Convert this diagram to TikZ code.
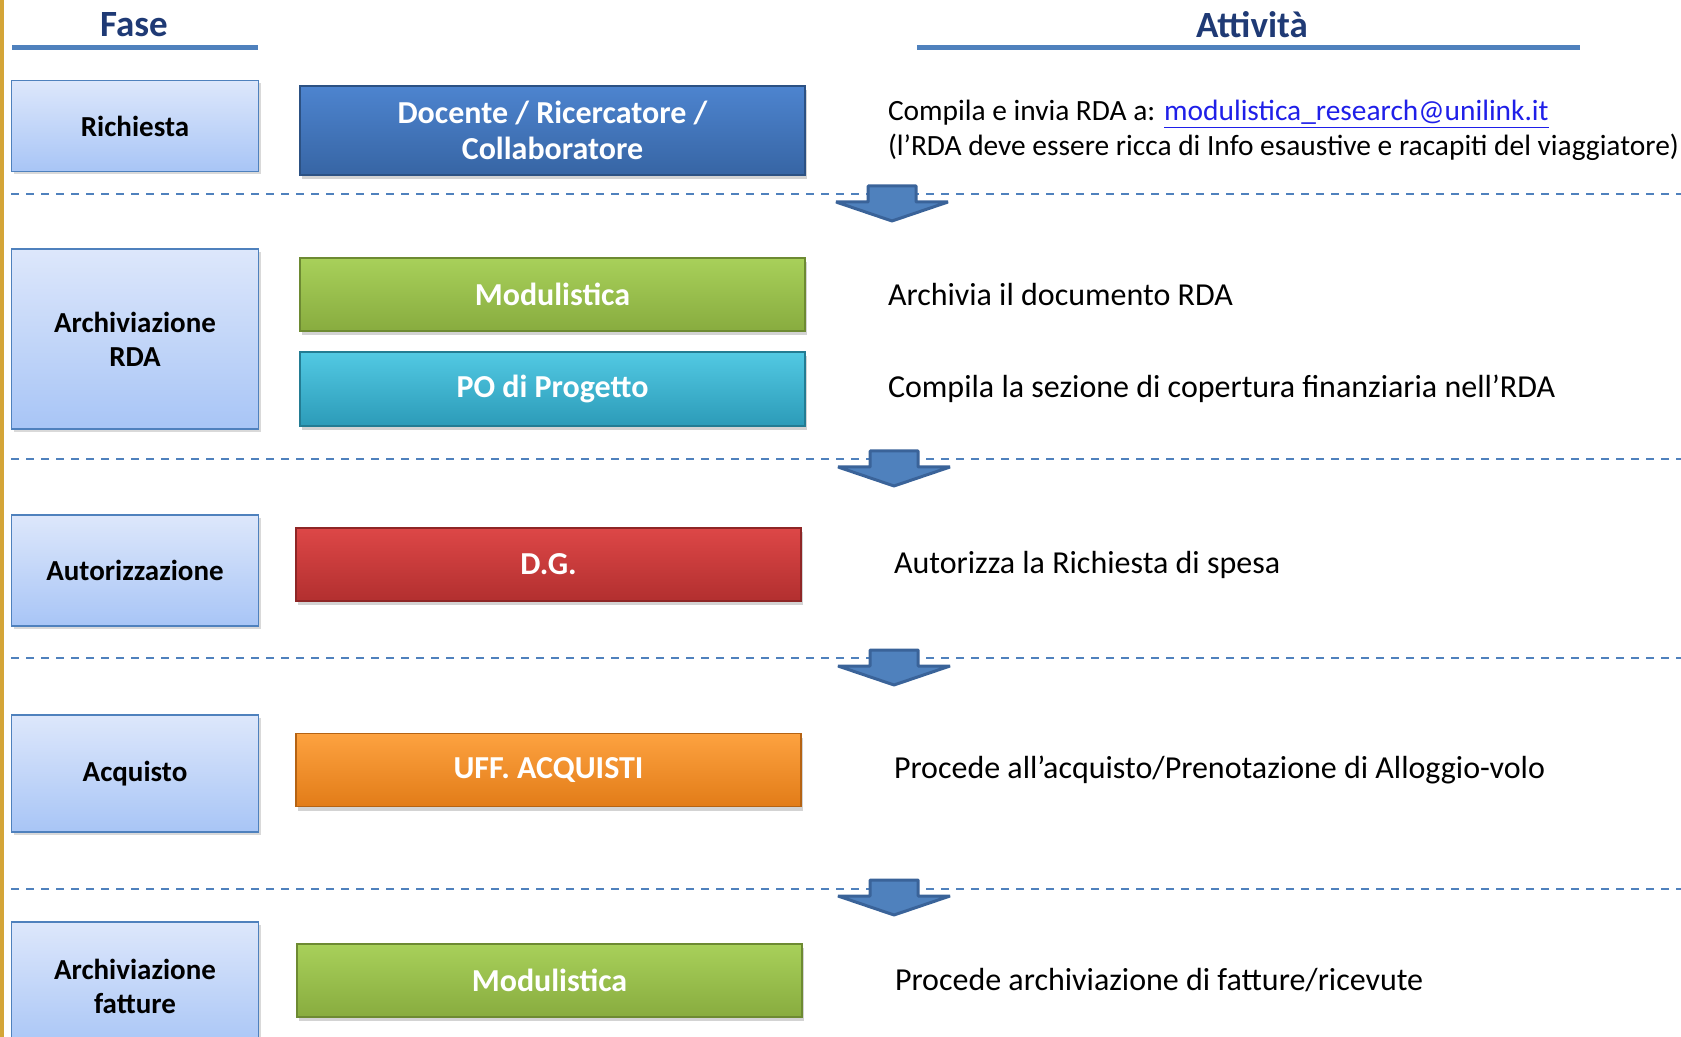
\documentclass[tikz,border=0pt]{standalone}
\usepackage{fontspec}
\setmainfont{Carlito}
\usetikzlibrary{positioning,shadows}

\definecolor{fasenavy}{HTML}{1F3A75}
\definecolor{lineblue}{HTML}{4F81BD}
\definecolor{arrowedge}{HTML}{3A6399}
\definecolor{goldbar}{HTML}{D4A537}
\definecolor{faseTop}{HTML}{DDE7FB}
\definecolor{faseBot}{HTML}{A8C5F6}
\definecolor{docTop}{HTML}{4D84CF}
\definecolor{docBot}{HTML}{3765A4}
\definecolor{modTop}{HTML}{A8D05A}
\definecolor{modBot}{HTML}{88AC3F}
\definecolor{poTop}{HTML}{52C9E3}
\definecolor{poBot}{HTML}{2C9BB8}
\definecolor{dgTop}{HTML}{DD4747}
\definecolor{dgBot}{HTML}{B22F2F}
\definecolor{uffTop}{HTML}{FDA240}
\definecolor{uffBot}{HTML}{E27C18}
\definecolor{mailblue}{HTML}{1F1FE8}

\tikzset{
  fasebox/.style={draw=lineblue,line width=0.8pt,top color=faseTop,bottom color=faseBot,
    minimum width=123.5pt,align=center,font=\bfseries\fontsize{14.5}{17}\selectfont,
    drop shadow={shadow xshift=1pt,shadow yshift=-1.5pt,opacity=0.3}},
  rolebox/.style={draw=#1Bot!80!black,line width=0.6pt,top color=#1Top,bottom color=#1Bot,
    minimum width=252.5pt,minimum height=36.5pt,align=center,text=white,
    font=\bfseries\fontsize{16}{18}\selectfont,
    drop shadow={shadow xshift=1pt,shadow yshift=-2pt,opacity=0.35}},
  acttext/.style={align=left,inner sep=0pt,font=\fontsize{16}{17.5}\selectfont},
  headtext/.style={text=fasenavy,font=\bfseries\fontsize{18.5}{21}\selectfont},
  headline/.style={lineblue,line width=2.5pt},
  sepline/.style={lineblue,line width=1pt,dash pattern=on 4pt off 3.5pt},
  downarr/.pic={
    \path[draw=arrowedge,fill=lineblue,line width=1.5pt,line join=bevel]
      (-24,0) -- (24,0) -- (24,16) -- (56,16) -- (0,35) -- (-56,16) -- (-24,16) -- cycle;
  }
}

\begin{document}
\begin{tikzpicture}[x=0.5pt,y=-0.5pt]
    \useasboundingbox (0,0) rectangle (1681,1037);
    \fill[goldbar] (0,0) rectangle (4,1037);

    % headers
    \node[headtext] (fase) at (134,25) {Fase};
    \node[headtext] (attivita) at (1252,25) {Attività};
    \draw[headline] (12,48) -- (258,48);
    \draw[headline] (917,48) -- (1580,48);

    \draw
        node[fasebox,minimum height=45.5pt] (richiesta) at (135,126) {Richiesta}
        node[fasebox,minimum height=90pt] (archrda) at (135,339) {Archiviazione\\RDA}
        node[fasebox,minimum height=55.5pt] (autoriz) at (135,570.5) {Autorizzazione}
        node[fasebox,minimum height=58.5pt] (acquisto) at (135,773.5) {Acquisto}
        node[fasebox,minimum height=64pt] (archfatt) at (135,986) {Archiviazione\\fatture}

        node[rolebox=doc,minimum height=44.5pt] (docente) at (552.5,130.5) {Docente / Ricercatore /\\Collaboratore}
        node[rolebox=mod] (modrda) at (552.5,294.5) {Modulistica}
        node[rolebox=po,minimum height=37pt] (po) at (552.5,389) {PO di Progetto}
        node[rolebox=dg] (dg) at (548.5,564.5) {D.G.}
        node[rolebox=uff] (uff) at (548.5,770) {UFF. ACQUISTI}
        node[rolebox=mod] (modfatt) at (549.5,980.5) {Modulistica}

        node[acttext,right=41pt of docente,font=\fontsize{14.7}{17.5}\selectfont] (compila)
            {Compila e invia RDA a: \textcolor{mailblue}{\underline{modulistica\_research@unilink.it}}\\
             (l’RDA deve essere ricca di Info esaustive e racapiti del viaggiatore)}
        node[acttext,right=41pt of modrda] (archivia) {Archivia il documento RDA}
        node[acttext,right=41pt of po] (copertura) {Compila la sezione di copertura finanziaria nell’RDA}
        node[acttext,right=46pt of dg] (autorizza) {Autorizza la Richiesta di spesa}
        node[acttext,right=46pt of uff] (procede) {Procede all’acquisto/Prenotazione di Alloggio-volo}
        node[acttext,right=46pt of modfatt] (fatture) {Procede archiviazione di fatture/ricevute}
    ;

    % phase separators
    \draw[sepline] (11,194) -- (1681,194);
    \draw[sepline] (11,459) -- (1681,459);
    \draw[sepline] (11,658) -- (1681,658);
    \draw[sepline] (11,889) -- (1681,889);

    \pic at (892,186) {downarr};
    \pic at (894,451) {downarr};
    \pic at (894,650) {downarr};
    \pic at (894,880) {downarr};
\end{tikzpicture}
\end{document}
